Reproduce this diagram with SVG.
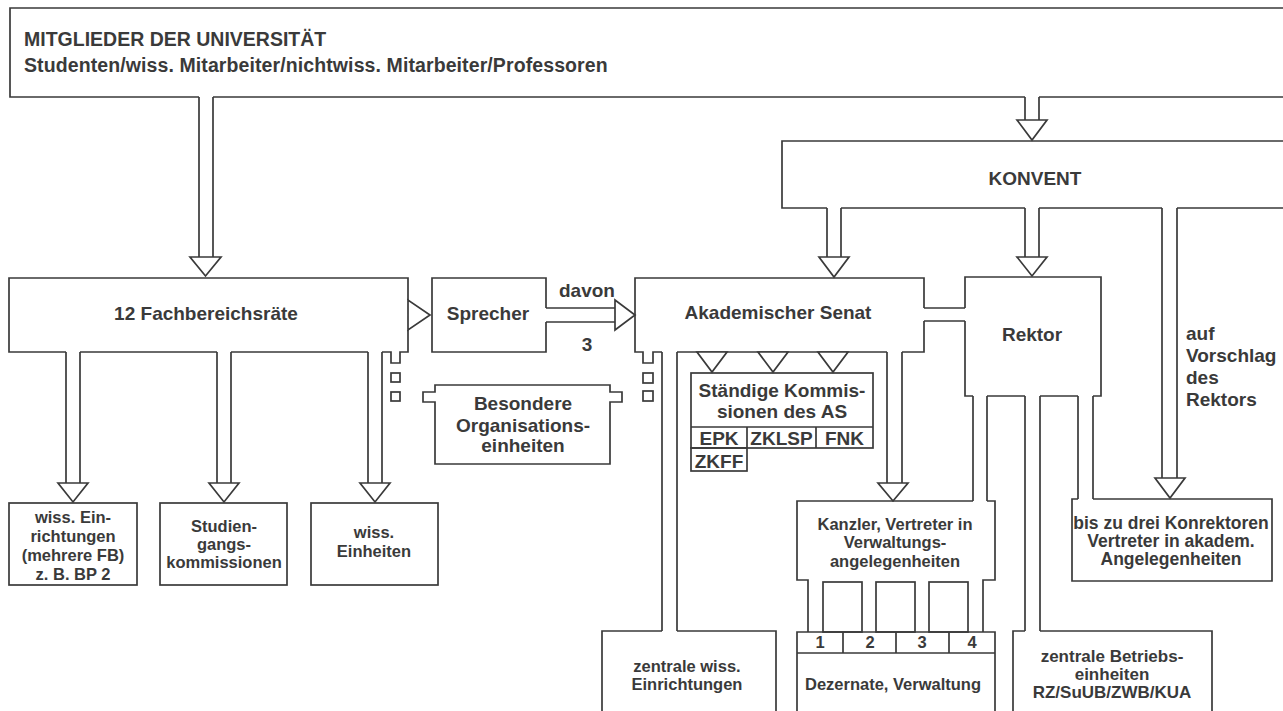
<svg xmlns="http://www.w3.org/2000/svg" width="1283" height="711" viewBox="0 0 1283 711">
<style>
  .o{fill:none;stroke:#3a3a3a;stroke-width:1.7;stroke-linejoin:miter}
  .a{fill:#fff;stroke:#3a3a3a;stroke-width:1.7;stroke-linejoin:miter}
  text{font-family:"Liberation Sans",Arial,Helvetica,sans-serif;font-weight:bold;fill:#3a3a3a}
  .L{font-size:19px;text-anchor:middle}
  .M{font-size:17.5px;text-anchor:middle}
  .Z{font-size:17px;text-anchor:middle}
  .S{font-size:16.5px;text-anchor:middle}
  .H{font-size:19.5px}
  .R{font-size:19px}
</style>
<rect width="1283" height="711" fill="#fff"/>

<g id="mitglieder">
  <path class="o" d="M1285,8 H10 V97 H199 M213,97 H1025 M1039,97 H1285"/>
  <text class="H" x="24" y="46">MITGLIEDER DER UNIVERSITÄT</text>
  <text class="H" x="24" y="72" letter-spacing="0.1">Studenten/wiss. Mitarbeiter/nichtwiss. Mitarbeiter/Professoren</text>
</g>

<g id="konvent">
  <path class="o" d="M1285,141 H782 V208 H827 M841,208 H1025 M1039,208 H1162 M1177,208 H1285"/>
  <text class="L" x="1035" y="185">KONVENT</text>
</g>

<g id="fachbereichsraete">
  <path class="o" d="M408,300 V278 H9 V352 H66 M80,352 H217 M231,352 H368 M382,352 H391 V363 H400 V352 H408 V330"/>
  <text class="L" x="206" y="320">12 Fachbereichsräte</text>
</g>

<g id="sprecher">
  <path class="o" d="M546,308 V278 H432 V352 H546 V322"/>
  <text class="L" x="488" y="320">Sprecher</text>
</g>

<g id="senat">
  <path class="o" d="M924,308 V278 H635 V352 H643 V363 H653 V352 H662 M677,352 H887 M902,352 H924 V321"/>
  <text class="L" x="778" y="319">Akademischer Senat</text>
</g>

<g id="rektor">
  <path class="o" d="M965,308 V277 H1101 V396 H1093 M1078,396 H1040 M1025,396 H987 M973,396 H965 V321"/>
  <text class="L" x="1032" y="341">Rektor</text>
</g>

<g id="besondere">
  <path class="o" d="M435,385 H610 V392 H622 V402 H610 V464 H435 V402 H423 V392 H435 Z"/>
  <text class="L" x="523" y="410">Besondere</text>
  <text class="L" x="523" y="432">Organisations-</text>
  <text class="L" x="523" y="452">einheiten</text>
</g>

<g id="wiss-einrichtungen">
  <rect class="o" x="9" y="503" width="128" height="82"/>
  <text class="S" x="73" y="523">wiss. Ein-</text>
  <text class="S" x="73" y="542">richtungen</text>
  <text class="S" x="73" y="561">(mehrere FB)</text>
  <text class="S" x="73" y="580">z. B. BP 2</text>
</g>

<g id="studiengangskommissionen">
  <rect class="o" x="160" y="503" width="127" height="82"/>
  <text class="S" x="224" y="532">Studien-</text>
  <text class="S" x="224" y="550">gangs-</text>
  <text class="S" x="224" y="568">kommissionen</text>
</g>

<g id="wiss-einheiten">
  <rect class="o" x="311" y="503" width="127" height="82"/>
  <text class="S" x="374" y="538">wiss.</text>
  <text class="S" x="374" y="557">Einheiten</text>
</g>

<g id="staendige-kommissionen">
  <rect class="o" x="691" y="373" width="182" height="75"/>
  <path class="o" d="M691,427 H873 M747,427 V448 M816,427 V448"/>
  <rect class="o" x="691" y="448" width="56" height="23"/>
  <text class="L" x="782" y="397">Ständige Kommis-</text>
  <text class="L" x="782" y="418">sionen des AS</text>
  <text class="L" x="719" y="445">EPK</text>
  <text class="L" x="781.5" y="445">ZKLSP</text>
  <text class="L" x="844.5" y="445">FNK</text>
  <text class="L" x="719" y="468">ZKFF</text>
</g>

<g id="zentrale-wiss-einrichtungen">
  <path class="o" d="M662,631 H602 V720 M677,631 H776 V720"/>
  <text class="S" x="687" y="672">zentrale wiss.</text>
  <text class="S" x="687" y="690">Einrichtungen</text>
</g>

<g id="kanzler">
  <path class="o" d="M973,501 H797 V580 H808 V632 M987,501 H995 V580 H983 V632"/>
  <rect class="o" x="823" y="582" width="39" height="50"/>
  <rect class="o" x="876" y="582" width="39" height="50"/>
  <rect class="o" x="929" y="582" width="39" height="50"/>
  <text class="S" x="895" y="530">Kanzler, Vertreter in</text>
  <text class="S" x="895" y="548">Verwaltungs-</text>
  <text class="S" x="895" y="567">angelegenheiten</text>
</g>

<g id="dezernate">
  <path class="o" d="M797,720 V632 H995 V720 M797,653 H995 M843,632 V653 M896,632 V653 M949,632 V653"/>
  <text class="S" x="820" y="648">1</text>
  <text class="S" x="870" y="648">2</text>
  <text class="S" x="922" y="648">3</text>
  <text class="S" x="972" y="648">4</text>
  <text class="S" x="893" y="690">Dezernate, Verwaltung</text>
</g>

<g id="konrektoren">
  <path class="o" d="M1078,499 H1072 V581 H1272 V499 H1093"/>
  <text class="M" x="1171" y="529">bis zu drei Konrektoren</text>
  <text class="M" x="1171" y="547">Vertreter in akadem.</text>
  <text class="M" x="1171" y="565">Angelegenheiten</text>
</g>

<g id="zentrale-betriebseinheiten">
  <path class="o" d="M1025,631 H1013 V720 M1040,631 H1212 V720"/>
  <text class="Z" x="1112" y="662">zentrale Betriebs-</text>
  <text class="Z" x="1112" y="680">einheiten</text>
  <text class="Z" x="1112" y="698">RZ/SuUB/ZWB/KUA</text>
</g>

<g id="connectors">
  <path class="o" d="M199,97 V257 M213,97 V257"/>
  <polygon class="a" points="190,257 221,257 205.5,276"/>
  <path class="o" d="M1025,97 V120 M1039,97 V120"/>
  <polygon class="a" points="1017,120 1047,120 1032,140"/>
  <path class="o" d="M827,208 V257 M841,208 V257"/>
  <polygon class="a" points="819,257 849,257 834,277"/>
  <path class="o" d="M1025,208 V257 M1039,208 V257"/>
  <polygon class="a" points="1017,257 1047,257 1032,276"/>
  <path class="o" d="M1162,208 V478 M1177,208 V478"/>
  <polygon class="a" points="1155,478 1185,478 1170,498"/>
  <text class="R" x="1186" y="340">auf</text>
  <text class="R" x="1186" y="362">Vorschlag</text>
  <text class="R" x="1186" y="384">des</text>
  <text class="R" x="1186" y="406">Rektors</text>
  <path class="o" d="M66,352 V483 M80,352 V483 M217,352 V483 M231,352 V483 M368,352 V483 M382,352 V483"/>
  <polygon class="a" points="58,483 88,483 73,502"/>
  <polygon class="a" points="209,483 239,483 224,502"/>
  <polygon class="a" points="360,483 390,483 375,502"/>
  <rect class="o" x="391" y="373" width="9" height="9"/>
  <rect class="o" x="391" y="392" width="9" height="9"/>
  <polygon class="a" points="408,300 408,330 430,315"/>
  <path class="o" d="M546,308 H615 M546,322 H615"/>
  <polygon class="a" points="615,300 615,330 635,315"/>
  <text class="L" x="587" y="297">davon</text>
  <text class="L" x="587" y="351">3</text>
  <polygon class="a" points="697,352 727,352 712,372"/>
  <polygon class="a" points="758,352 788,352 773,372"/>
  <polygon class="a" points="818,352 848,352 833,372"/>
  <rect class="o" x="643" y="373" width="10" height="10"/>
  <rect class="o" x="643" y="391" width="10" height="10"/>
  <path class="o" d="M662,352 V631 M677,352 V631"/>
  <path class="o" d="M887,352 V483 M902,352 V483"/>
  <polygon class="a" points="878,483 908,483 893,501"/>
  <path class="o" d="M924,308 H965 M924,321 H965"/>
  <path class="o" d="M973,396 V501 M987,396 V501 M1025,396 V631 M1040,396 V631 M1078,396 V499 M1093,396 V499"/>
</g>
</svg>
